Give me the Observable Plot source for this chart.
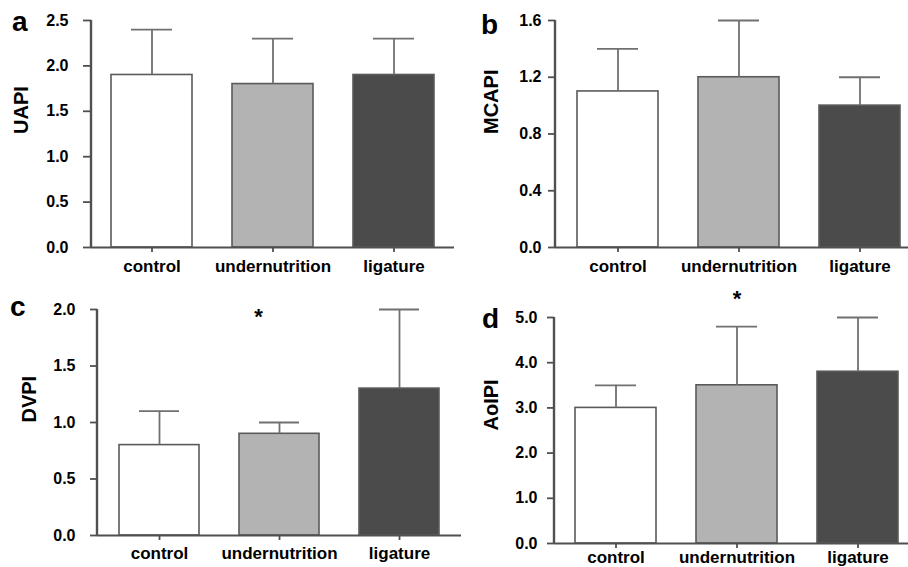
<!DOCTYPE html>
<html>
<head>
<meta charset="utf-8">
<script src="https://cdn.jsdelivr.net/npm/d3@7"></script>
<script src="https://cdn.jsdelivr.net/npm/@observablehq/plot@0.6"></script>
<style>
  html, body { margin: 0; padding: 0; background: #fff; }
  #wrap { position: relative; width: 908px; height: 567px; overflow: hidden; background: #fff;
          font-family: "Liberation Sans", Arial, sans-serif; }
  .panel { position: absolute; }
  .panel svg { max-width: none !important; }
  .letter { position: absolute; font-size: 28px; font-weight: bold; line-height: 28px; color: #000; }
</style>
</head>
<body>
<div id="wrap"></div>
<script>
// ---- data ----
const categories = ["control", "undernutrition", "ligature"];
const barFills = ["#ffffff", "#b3b3b3", "#4b4b4b"];

const uapiMean  = [1.9, 1.8, 1.9];
const uapiUpper = [2.4, 2.3, 2.3];
const uapiTicks = [0, 0.5, 1.0, 1.5, 2.0, 2.5];

const mcapiMean  = [1.1, 1.2, 1.0];
const mcapiUpper = [1.4, 1.6, 1.2];
const mcapiTicks = [0, 0.4, 0.8, 1.2, 1.6];

const dvpiMean  = [0.8, 0.9, 1.3];
const dvpiUpper = [1.1, 1.0, 2.0];
const dvpiTicks = [0, 0.5, 1.0, 1.5, 2.0];

const aoipiMean  = [3.0, 3.5, 3.8];
const aoipiUpper = [3.5, 4.8, 5.0];
const aoipiTicks = [0, 1, 2, 3, 4, 5];

const panelLetters = ["a", "b", "c", "d"];
const yLabels = ["UAPI", "MCAPI", "DVPI", "AoIPI"];
// significance markers: [category, y value]
const dvpiStar  = [{cat: "undernutrition", y: 1.93}];
const aoipiStar = [{cat: "undernutrition", y: 5.40}];

// ---- drawing ----
const axisColor = "#505050";
const errColor = "#707070";
const wrap = document.getElementById("wrap");

function panel(cfg) {
  const rows = categories.map((c, i) => ({cat: c, mean: cfg.mean[i], upper: cfg.upper[i], fill: barFills[i]}));
  const marks = [
    Plot.barY(rows, {x: "cat", y: "mean", fill: "fill", stroke: "#5a5a5a", strokeWidth: 1.6}),
    Plot.ruleX(rows, {x: "cat", y1: "mean", y2: "upper", stroke: errColor, strokeWidth: 1.8}),
    Plot.tickY(rows, {x: "cat", y: "upper", stroke: errColor, strokeWidth: 1.8, insetLeft: 20, insetRight: 20}),
    Plot.ruleY([0], {stroke: axisColor, strokeWidth: 1.8}),
    Plot.axisY({ticks: cfg.ticks, tickFormat: d3.format(".1f"), tickSize: cfg.tickSize, tickPadding: cfg.tickPadding,
                fontSize: 16, fontWeight: "bold", stroke: axisColor, strokeWidth: 1.8, color: "#000", label: null}),
    Plot.axisX({tickSize: 5, tickPadding: cfg.xPad, fontSize: 17, fontWeight: "bold", stroke: axisColor, strokeWidth: 1.8, label: null}),
    Plot.text([cfg.yLabel], {text: d => d, frameAnchor: "left", dx: cfg.labelDx, rotate: -90,
                             fontSize: 20, fontWeight: "bold", fill: "#000"}),
    // y-axis line, drawn through the plot's y scale at the frame's left edge
    (index, scales, values, dims) => {
      const l = document.createElementNS("http://www.w3.org/2000/svg", "line");
      l.setAttribute("x1", dims.marginLeft);
      l.setAttribute("x2", dims.marginLeft);
      l.setAttribute("y1", scales.y(cfg.domain[0]));
      l.setAttribute("y2", scales.y(cfg.domain[1]));
      l.setAttribute("stroke", axisColor);
      l.setAttribute("stroke-width", 2.4);
      return l;
    }
  ];
  if (cfg.star) {
    marks.push(Plot.text(cfg.star, {x: "cat", y: "y", text: () => "*", dx: cfg.starDx || 0,
                                    fontSize: 22, fontWeight: "bold", fill: "#000"}));
  }
  const svg = Plot.plot({
    width: cfg.width, height: cfg.height,
    marginLeft: cfg.marginLeft, marginRight: 0, marginTop: cfg.marginTop, marginBottom: cfg.marginBottom,
    style: {fontFamily: "'Liberation Sans', Arial, sans-serif", fontWeight: "bold", color: "#000", background: "transparent", overflow: "visible"},
    x: {type: "band", domain: categories, paddingInner: 0.33, paddingOuter: cfg.po, label: null},
    y: {domain: cfg.domain, label: null},
    color: {type: "identity"},
    marks
  });
  const div = document.createElement("div");
  div.className = "panel";
  div.style.left = cfg.left + "px";
  div.style.top = cfg.top + "px";
  div.style.width = cfg.width + "px";
  div.appendChild(svg);
  wrap.appendChild(div);

  const lt = document.createElement("div");
  lt.className = "letter";
  lt.textContent = cfg.letter;
  lt.style.left = cfg.letterX + "px";
  lt.style.top = cfg.letterY + "px";
  wrap.appendChild(lt);
}

panel({mean: uapiMean, upper: uapiUpper, ticks: uapiTicks, domain: [0, 2.5], yLabel: yLabels[0], letter: panelLetters[0],
       left: 0, top: 0, width: 454, height: 280, marginLeft: 91, marginTop: 20, marginBottom: 33, po: 0.165,
       tickSize: 8, tickPadding: 15, xPad: 7, labelDx: -70, letterX: 12, letterY: 8});

panel({mean: mcapiMean, upper: mcapiUpper, ticks: mcapiTicks, domain: [0, 1.6], yLabel: yLabels[1], letter: panelLetters[1],
       left: 454, top: 0, width: 468, height: 280, marginLeft: 101, marginTop: 20, marginBottom: 33, po: 0.17,
       tickSize: 7, tickPadding: 7, xPad: 7, labelDx: -64, letterX: 481, letterY: 11});

panel({mean: dvpiMean, upper: dvpiUpper, ticks: dvpiTicks, domain: [0, 2.0], yLabel: yLabels[2], letter: panelLetters[2],
       left: 0, top: 280, width: 461, height: 287, marginLeft: 97, marginTop: 29, marginBottom: 32, po: 0.17,
       tickSize: 7, tickPadding: 15, xPad: 6, labelDx: -68, letterX: 10, letterY: 293, star: dvpiStar, starDx: -21});

panel({mean: aoipiMean, upper: aoipiUpper, ticks: aoipiTicks, domain: [0, 5.0], yLabel: yLabels[3], letter: panelLetters[3],
       left: 454, top: 280, width: 465, height: 300, marginLeft: 100, marginTop: 37, marginBottom: 37, po: 0.165,
       tickSize: 7, tickPadding: 10, xPad: 2, labelDx: -63, letterX: 482, letterY: 305, star: aoipiStar});
</script>
</body>
</html>
